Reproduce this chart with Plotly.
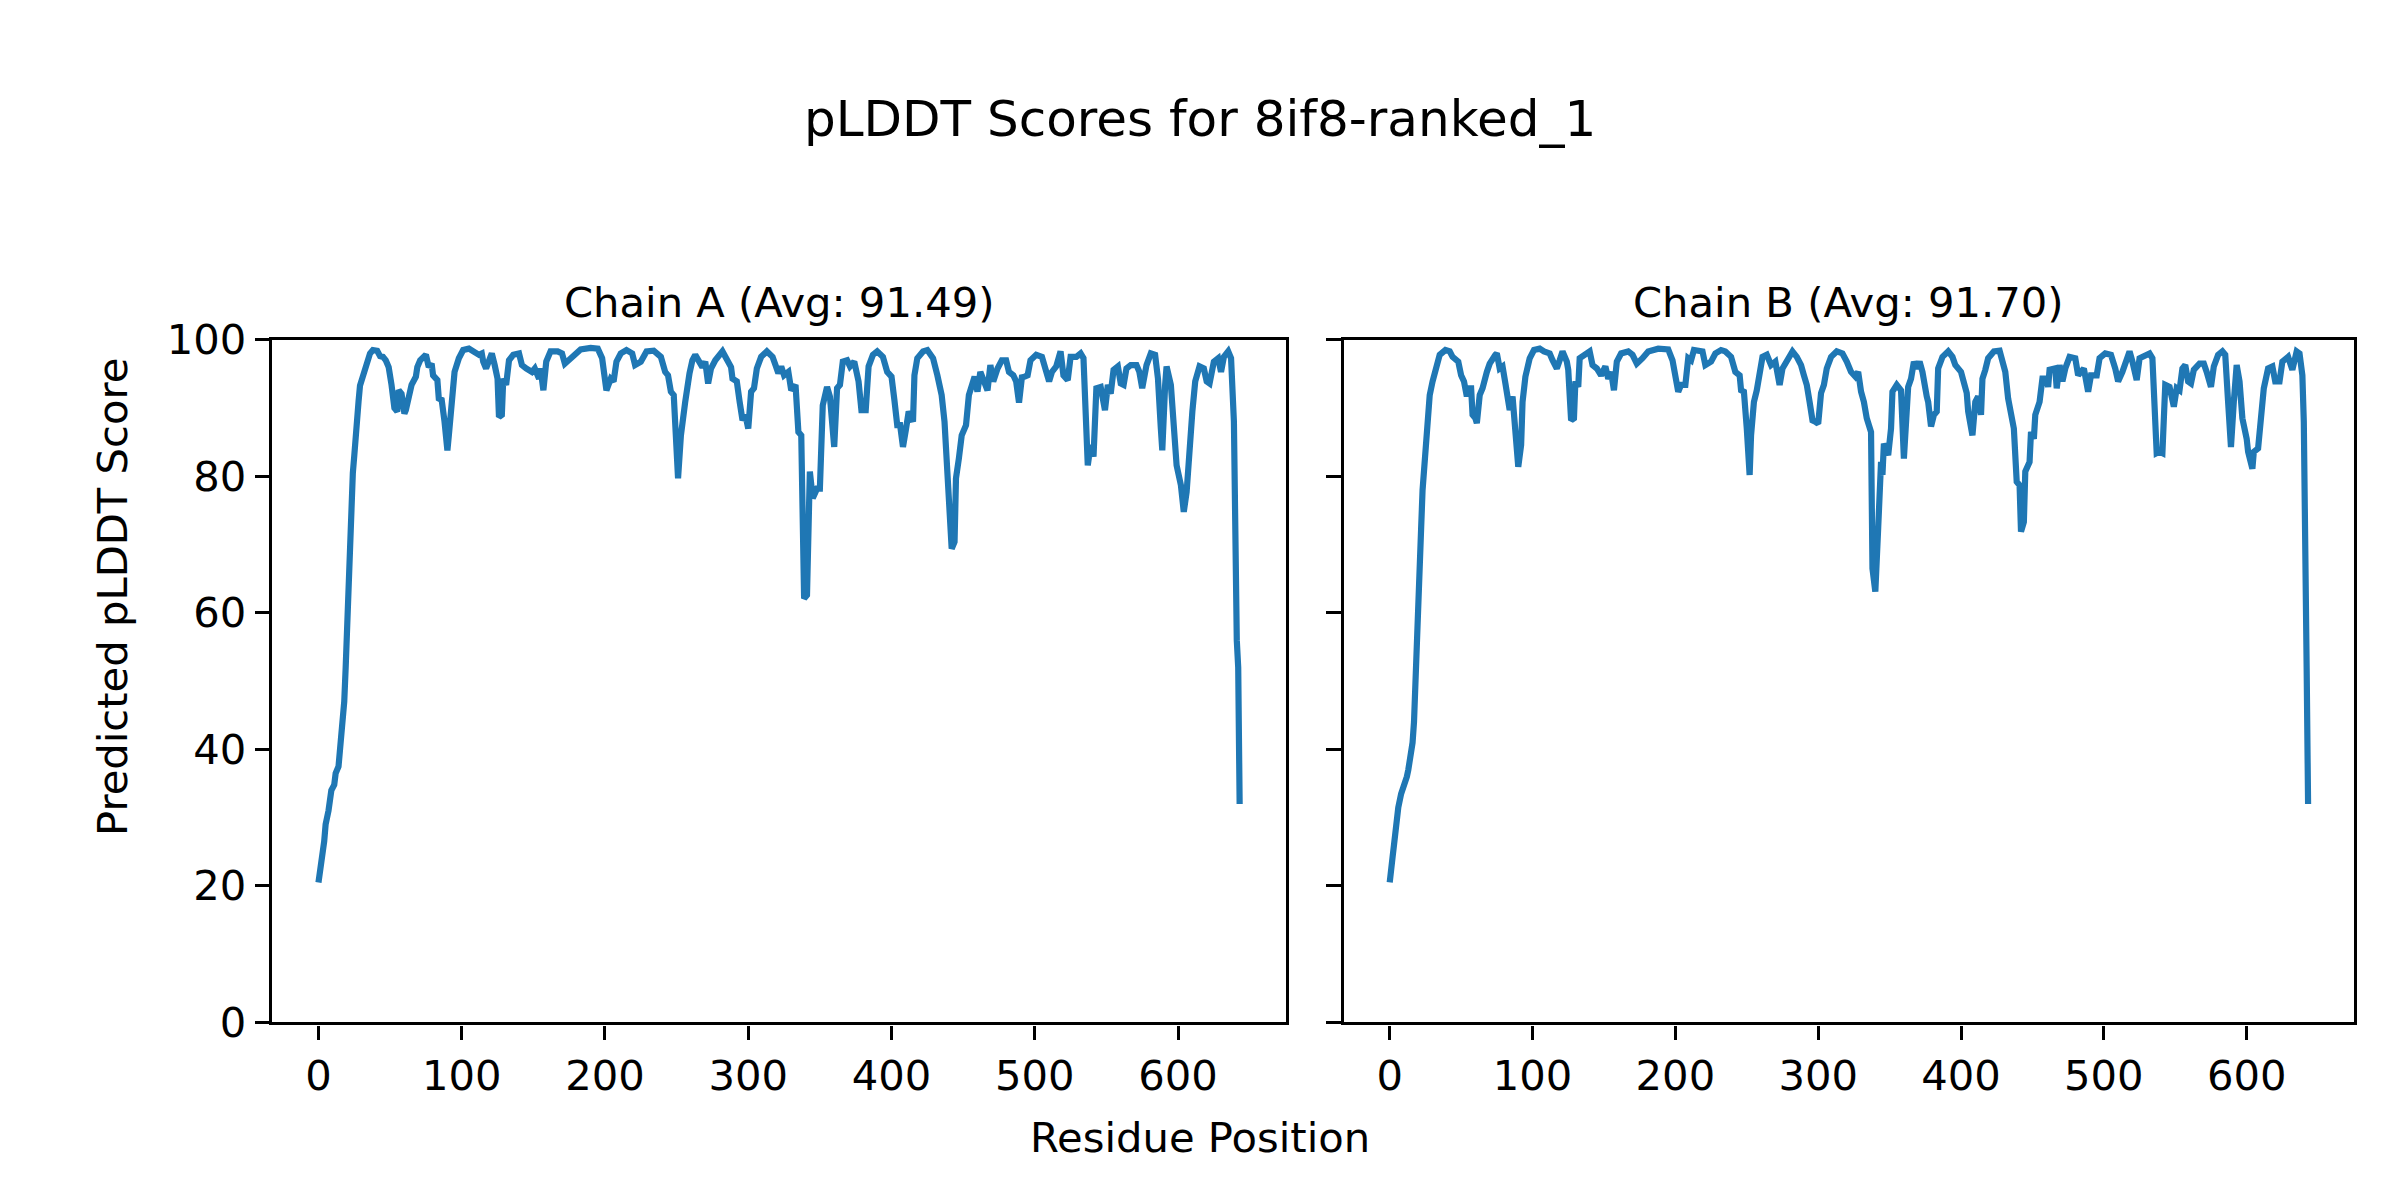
import plotly.graph_objects as go

# ---------------- data ----------------
chain_a_pos = [0, 1, 2, 4, 5, 7, 8, 9, 11, 12, 14, 15, 16, 17, 18, 19, 20, 21, 22, 23, 24, 25, 26, 27, 28, 29, 30, 32, 34, 36, 38, 41, 43, 45, 47, 49, 51, 53, 55, 56, 58, 60, 61, 63, 65, 68, 69, 71, 74, 75, 77, 79, 80, 83, 84, 86, 88, 90, 91, 93, 95, 98, 101, 105, 108, 112, 114, 115, 117, 119, 121, 123, 125, 126, 128, 129, 131, 133, 136, 140, 142, 145, 149, 151, 154, 155, 157, 159, 162, 167, 170, 172, 176, 179, 183, 190, 195, 198, 200, 201, 204, 206, 208, 211, 215, 219, 221, 225, 229, 234, 239, 242, 244, 246, 248, 250, 251, 253, 255, 256, 259, 261, 263, 266, 268, 270, 272, 274, 277, 282, 285, 288, 289, 292, 294, 296, 298, 300, 302, 304, 306, 309, 313, 317, 319, 321, 323, 325, 328, 330, 333, 335, 337, 339, 341, 343, 345, 348, 350, 352, 355, 357, 360, 362, 364, 366, 369, 371, 374, 377, 379, 382, 384, 387, 390, 394, 397, 400, 402, 404, 406, 408, 410, 412, 415, 416, 418, 422, 425, 429, 432, 435, 437, 440, 442, 444, 445, 447, 449, 452, 454, 458, 460, 462, 465, 467, 469, 471, 474, 477, 480, 482, 485, 487, 489, 491, 493, 495, 497, 501, 505, 508, 510, 512, 515, 518, 520, 523, 525, 529, 532, 534, 536, 537, 539, 541, 543, 546, 549, 551, 553, 555, 558, 560, 562, 564, 567, 571, 573, 575, 578, 581, 584, 586, 588, 589, 591, 592, 595, 597, 599, 602, 604, 606, 608, 610, 612, 615, 618, 620, 622, 625, 628, 630, 632, 635, 637, 639, 641, 642, 643]
chain_a_plddt = [20.5, 22.8, 23.5, 26.5, 29, 31, 32.5, 34, 34.8, 36.5, 37.5, 39.5, 41, 44, 47, 52, 58, 66, 72.5, 76, 80.5, 83, 87, 88, 91, 93.3, 94, 95.5, 97.3, 98, 98.5, 98.4, 97.6, 97.5, 97, 96, 93.4, 90, 89.5, 92.6, 92.1, 89.2, 89.7, 91.7, 93.4, 94.6, 96, 97, 97.5, 97.8, 96, 96.5, 94.8, 94.1, 91.4, 91.2, 88, 83.8, 86, 91.4, 95.3, 97.3, 98.5, 98.7, 98.4, 97.8, 98, 96.8, 95.8, 97, 98, 96.3, 94.3, 88.7, 89, 94.3, 93.4, 97, 97.8, 98, 96.3, 95.8, 95.3, 95.8, 94.3, 95.8, 92.6, 96.8, 98.3, 98.3, 98, 96.5, 97.3, 98, 98.6, 98.8, 98.7, 97.3, 94.3, 92.6, 94.3, 93.9, 96.8, 98, 98.5, 98, 96.3, 96.8, 98.3, 98.4, 97.5, 95.3, 94.8, 92.4, 91.9, 84.6, 79.7, 86, 90.4, 90.9, 95.1, 97, 97.8, 96.5, 96, 96.8, 93.6, 95.8, 97, 98.3, 97.3, 96, 94.3, 93.9, 90.9, 88.2, 89, 87, 92.4, 92.9, 95.8, 97.5, 98.3, 97.5, 96.3, 95.1, 96.1, 94.8, 95.3, 92.6, 93.4, 86.5, 86, 62.1, 62.6, 80.7, 76.8, 78.2, 78.2, 90.4, 93.1, 91.7, 84.3, 92.9, 93.4, 96.8, 97, 96.1, 96.8, 93.9, 89.7, 89.7, 96.1, 97.8, 98.3, 97.5, 95.3, 94.6, 91.2, 87.5, 87.5, 84.3, 86.8, 89.5, 88, 94.8, 97.3, 98.3, 98.5, 97.3, 94.8, 91.9, 88, 78.2, 69.4, 70.4, 79.7, 82.6, 86, 87.5, 91.9, 94.6, 92.4, 95.3, 93.9, 92.6, 96.3, 93.9, 95.8, 97, 97, 95.3, 94.8, 93.9, 90.8, 94.5, 94.6, 94.8, 97, 97.8, 97.5, 95.3, 93.9, 95.3, 96.1, 98.3, 94.8, 94.1, 97.5, 97.5, 98, 97.3, 88.5, 81.6, 84.6, 82.9, 92.9, 93.1, 89.7, 93.4, 92.1, 95.6, 96.1, 93.6, 93.4, 95.8, 96.3, 96.3, 95.3, 92.9, 96.3, 98, 97.8, 94.3, 87, 83.8, 93.4, 96.1, 93.4, 85.5, 81.6, 78.7, 74.8, 77.7, 85.1, 89.5, 93.9, 96.1, 95.8, 93.9, 93.6, 96.8, 97.3, 95.3, 97.5, 98.3, 97.3, 88, 56, 52, 32]

chain_b_pos = [0, 1, 2, 3, 4, 5, 6, 8, 9, 10, 12, 13, 15, 16, 17, 18, 19, 20, 21, 22, 23, 24, 26, 28, 30, 33, 35, 39, 42, 44, 48, 50, 52, 54, 55, 57, 58, 60, 61, 63, 65, 68, 70, 74, 75, 77, 79, 81, 84, 86, 88, 90, 92, 93, 95, 98, 101, 105, 108, 112, 114, 117, 119, 121, 124, 125, 127, 129, 130, 132, 133, 137, 140, 142, 145, 148, 151, 153, 155, 157, 159, 162, 167, 170, 173, 177, 181, 188, 195, 198, 200, 202, 204, 207, 209, 211, 213, 216, 219, 221, 225, 228, 232, 235, 239, 242, 245, 246, 248, 250, 252, 253, 255, 257, 259, 261, 264, 267, 270, 272, 273, 275, 278, 282, 285, 288, 290, 292, 294, 296, 298, 300, 302, 304, 306, 309, 313, 317, 320, 323, 326, 328, 330, 332, 334, 337, 338, 340, 342, 344, 345, 346, 349, 351, 352, 355, 358, 360, 363, 365, 367, 369, 371, 373, 376, 377, 379, 381, 383, 384, 387, 391, 394, 396, 400, 402, 404, 405, 407, 408, 410, 412, 414, 415, 417, 419, 423, 427, 431, 433, 437, 439, 441, 442, 444, 445, 448, 449, 451, 452, 455, 457, 460, 461, 462, 466, 467, 469, 471, 473, 476, 480, 482, 486, 489, 491, 495, 497, 501, 505, 508, 510, 513, 515, 518, 520, 523, 525, 529, 532, 534, 536, 537, 539, 541, 543, 546, 549, 551, 553, 555, 557, 559, 561, 563, 567, 570, 572, 575, 577, 580, 583, 585, 587, 589, 591, 593, 595, 597, 600, 601, 604, 605, 608, 610, 612, 615, 618, 620, 623, 625, 629, 632, 635, 637, 639, 640, 641, 642, 643]
chain_b_plddt = [20.5, 24, 24.2, 26, 28, 30, 31.5, 33.5, 34, 34.5, 36, 37, 39, 41, 44, 49, 52, 57, 65, 72.4, 78, 80.5, 86.5, 91.9, 93.9, 96.3, 97.8, 98.5, 98.3, 97.5, 96.8, 94.8, 93.9, 91.7, 92.9, 92.9, 89, 88.5, 87.8, 91.9, 92.9, 95.3, 96.5, 97.8, 98, 95.8, 96.1, 93.6, 89.7, 91.7, 87, 81.4, 84.6, 90.9, 94.6, 97.3, 98.5, 98.7, 98.3, 98, 97, 95.8, 97, 98.3, 96.8, 95.6, 88.2, 88.5, 93.9, 93.1, 97.3, 97.8, 98.3, 96.3, 95.8, 94.8, 96.1, 94.3, 95.3, 92.6, 96.8, 98, 98.3, 97.8, 96.5, 97.3, 98.3, 98.7, 98.6, 97, 94.8, 92.4, 93.4, 93.4, 97.3, 97, 98.5, 98.5, 98.3, 96.3, 96.8, 98, 98.5, 98.3, 97.5, 95.3, 94.8, 92.6, 92.4, 87, 80.2, 86, 90.9, 92.6, 95.8, 97.5, 97.8, 96.3, 96.8, 94.3, 93.4, 95.8, 97, 98.3, 97.5, 96.3, 94.8, 93.4, 90.9, 88.2, 88, 87.7, 92.2, 93.4, 95.8, 97.5, 98.3, 98, 96.8, 95.3, 94.6, 95.3, 92.4, 90.9, 88.5, 86.5, 66.5, 63.1, 72.4, 82.1, 80.2, 84.8, 83.1, 87, 92.4, 93.4, 92.6, 82.6, 93.1, 94.3, 96.8, 95.8, 96.8, 95.3, 91.7, 90.9, 87.3, 89, 89.5, 95.8, 97.5, 98.3, 97.5, 96.3, 95.3, 93.9, 92.2, 89.5, 87.5, 86, 90.9, 91.7, 89, 94.3, 95.6, 97.3, 98.3, 98.4, 95.3, 91.4, 87, 79.2, 78.7, 71.9, 73.3, 80.7, 82.1, 86.5, 85.5, 89, 90.9, 94.3, 94.3, 93.1, 95.6, 95.8, 92.9, 96.3, 93.9, 95.8, 97.5, 97.3, 94.8, 95.8, 92.4, 94.8, 94.8, 97.3, 98, 97.8, 95.8, 93.9, 95.3, 96.5, 98.3, 96.8, 94.1, 97.3, 97.8, 98, 97.3, 88.5, 83.4, 83.6, 83.4, 93.4, 93.1, 90.2, 92.9, 92.6, 95.8, 96.3, 93.9, 93.6, 95.6, 96.5, 96.5, 95.3, 93.1, 96.1, 97.8, 98.3, 97.8, 90.9, 84.3, 90.9, 96.3, 93.9, 88.5, 85.5, 83.6, 81.1, 83.6, 84.1, 89.5, 92.9, 95.8, 96.1, 93.9, 93.9, 96.8, 97.5, 95.6, 98.3, 98, 94.8, 88, 75, 52, 32]

chain_titles = ["Chain A (Avg: 91.49)", "Chain B (Avg: 91.70)"]
main_title = "pLDDT Scores for 8if8-ranked_1"
x_label = "Residue Position"
y_label = "Predicted pLDDT Score"
x_ticks = [0, 100, 200, 300, 400, 500, 600]
y_ticks = [0, 20, 40, 60, 80, 100]

# ---------------- figure ----------------
W, H = 2400, 1200
FONT = "DejaVu Sans"
FS = 41.7
LINE_C = "#1f77b4"
LW_AX = 3.3

fig = go.Figure()
fig.add_trace(go.Scatter(x=chain_a_pos, y=chain_a_plddt, mode="lines",
                         line=dict(color=LINE_C, width=6.2), xaxis="x", yaxis="y",
                         showlegend=False, hoverinfo="skip"))
fig.add_trace(go.Scatter(x=chain_b_pos, y=chain_b_plddt, mode="lines",
                         line=dict(color=LINE_C, width=6.2), xaxis="x2", yaxis="y2",
                         showlegend=False, hoverinfo="skip"))

y_dom = [1 - 1022.4 / H, 1 - 339.8 / H]
xa_dom = [272.4 / W, 1285.7 / W]
xb_dom = [1343.8 / W, 2354.0 / W]

def xaxis(dom, anchor):
    return dict(domain=dom, anchor=anchor, range=[-32.15, 675.15],
                tickvals=x_ticks, ticktext=[str(t) for t in x_ticks],
                ticks="outside", ticklen=14.6, tickwidth=LW_AX, tickcolor="black",
                showline=True, linecolor="black", linewidth=LW_AX, mirror=True,
                showgrid=False, zeroline=False, automargin=False,
                tickfont=dict(family=FONT, size=FS, color="black"))

def yaxis(anchor, labels):
    return dict(domain=y_dom, anchor=anchor, range=[0, 100],
                tickvals=y_ticks, ticktext=[str(t) for t in y_ticks],
                ticks="outside", ticklen=14.6, tickwidth=LW_AX, tickcolor="black",
                showline=True, linecolor="black", linewidth=LW_AX, mirror=True,
                showgrid=False, zeroline=False, showticklabels=labels, automargin=False,
                tickfont=dict(family=FONT, size=FS, color="black"))

fig.update_layout(
    width=W, height=H, autosize=False,
    margin=dict(l=0, r=0, t=0, b=0, pad=0),
    paper_bgcolor="white", plot_bgcolor="white",
    xaxis=xaxis(xa_dom, "y"), yaxis=yaxis("x", True),
    xaxis2=xaxis(xb_dom, "y2"), yaxis2=yaxis("x2", False),
    font=dict(family=FONT, color="black"),
)

ann = []
ann.append(dict(text=main_title, x=0.5, y=1 - 119 / H, xref="paper", yref="paper",
                xanchor="center", yanchor="middle", showarrow=False,
                font=dict(family=FONT, size=50, color="black")))
for dom, t in zip([xa_dom, xb_dom], chain_titles):
    ann.append(dict(text=t, x=(dom[0] + dom[1]) / 2, y=1 - 302 / H, xref="paper", yref="paper",
                    xanchor="center", yanchor="middle", showarrow=False,
                    font=dict(family=FONT, size=FS, color="black")))
ann.append(dict(text=x_label, x=0.5, y=1 - 1137 / H, xref="paper", yref="paper",
                xanchor="center", yanchor="middle", showarrow=False,
                font=dict(family=FONT, size=FS, color="black")))
ann.append(dict(text=y_label, x=112 / W, y=1 - 597 / H, xref="paper", yref="paper",
                xanchor="center", yanchor="middle", showarrow=False, textangle=-90,
                font=dict(family=FONT, size=FS, color="black")))
fig.update_layout(annotations=ann)

fig.write_html(
    "out.html",
    config={"displayModeBar": False},
    post_script="document.body.style.margin='0';document.body.style.padding='0';"
                "document.documentElement.style.overflow='hidden';",
)
